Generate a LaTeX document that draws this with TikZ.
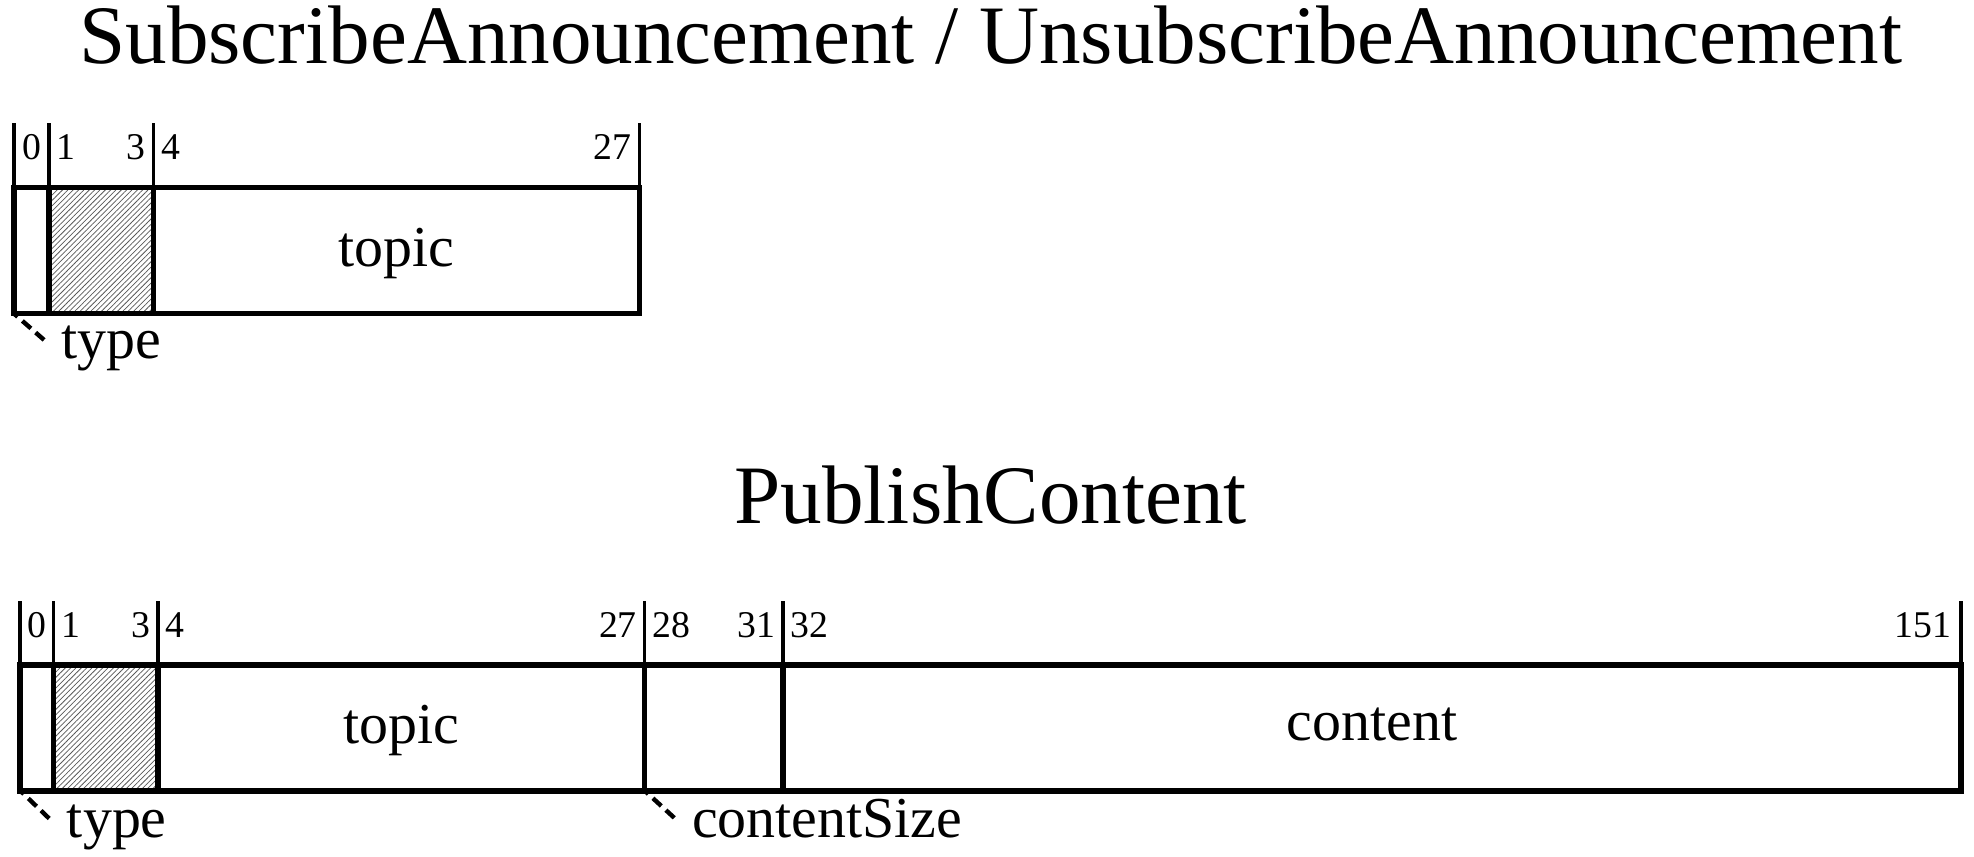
\documentclass[tikz,border=0pt]{standalone}
\usepackage{fontspec}
\setmainfont{Liberation Serif}
\usetikzlibrary{patterns.meta}
\tikzset{
	field/.style     = {draw, line width=4.6pt, rectangle, inner sep=0pt,
		outer sep=0pt, anchor=north west, minimum height=100pt,
		font=\tagsize, text depth=5pt},
	typefield/.style = {field, pattern={Lines[angle=45, distance=3pt,
		line width=0.6pt]}, pattern color=black!65},
	tick/.style      = {line width=2.8pt},
	callout/.style   = {line width=3.5pt, dash pattern=on 9pt off 5pt,
		dash phase=5pt},
	bitno/.style     = {inner sep=0pt, font=\bitsize},
	tag/.style       = {inner sep=0pt, anchor=base west, font=\tagsize},
	heading/.style   = {inner sep=0pt, anchor=base, font=\headsize}
}
\newcommand{\headsize}{\fontsize{66}{70}\selectfont}
\newcommand{\tagsize}{\fontsize{46}{50}\selectfont}
\newcommand{\bitsize}{\fontsize{30}{34}\selectfont}

\begin{document}
\begin{tikzpicture}[x=1pt, y=-1pt]
\fill[white] (0,0) rectangle (1568,680);
\useasboundingbox (0,0) rectangle (1568,680);

% Subscribe / Unsubscribe announcement
\node[heading] (satitle) at (787,50.5) {SubscribeAnnouncement / UnsubscribeAnnouncement};
\node[field, minimum width=28pt] (sa0) at (11,149) {};
\node[typefield, minimum width=83pt] (satype) at (39,149) {};
\node[field, minimum width=386pt] (satopic) at (122,149) {topic};

\draw[tick] (sa0.north west) -- +(0,-51);
\draw[tick] (sa0.north east) -- +(0,-51);
\draw[tick] (satype.north east) -- +(0,-51);
\draw[tick] (satopic.north east) -- +(0,-51);

\node[bitno, anchor=base] (sb0) at (25,127) {0};
\node[bitno, anchor=base west] (sb1) at (45,127) {1};
\node[bitno, anchor=base east] (sb3) at (116,127) {3};
\node[bitno, anchor=base west] (sb4) at (128,127) {4};
\node[bitno, anchor=base east] (sb27) at (502,127) {27};

\node[tag] (satag) at (48.5,284.5) {type};
\draw[callout] (sa0.south west) -- +(24,21);

% Publish content
\node[heading] (pctitle) at (787,416) {PublishContent};
\node[field, minimum width=26.5pt] (pc0) at (16,528) {};
\node[typefield, minimum width=83pt] (pctype) at (42.5,528) {};
\node[field, minimum width=386.5pt] (pctopic) at (125.5,528) {topic};
\node[field, minimum width=110pt] (pcsize) at (512,528) {};
\node[field, minimum width=935.5pt] (pccontent) at (622,528) {content};

\draw[tick] (pc0.north west) -- +(0,-51);
\draw[tick] (pc0.north east) -- +(0,-51);
\draw[tick] (pctype.north east) -- +(0,-51);
\draw[tick] (pctopic.north east) -- +(0,-51);
\draw[tick] (pcsize.north east) -- +(0,-51);
\draw[tick] (pccontent.north east) -- +(0,-51);

\node[bitno, anchor=base] (pb0) at (29.5,506) {0};
\node[bitno, anchor=base west] (pb1) at (48.5,506) {1};
\node[bitno, anchor=base east] (pb3) at (119.5,506) {3};
\node[bitno, anchor=base west] (pb4) at (131.5,506) {4};
\node[bitno, anchor=base east] (pb27) at (506,506) {27};
\node[bitno, anchor=base west] (pb28) at (518,506) {28};
\node[bitno, anchor=base east] (pb31) at (616,506) {31};
\node[bitno, anchor=base west] (pb32) at (628,506) {32};
\node[bitno, anchor=base east] (pb151) at (1550,506) {151};

\node[tag] (pctag) at (53,665.5) {type};
\node[tag] (pcsizetag) at (549.5,665.5) {contentSize};
\draw[callout] (pc0.south west) -- +(25,24);
\draw[callout] (pcsize.south west) -- +(24,22);
\end{tikzpicture}
\end{document}
